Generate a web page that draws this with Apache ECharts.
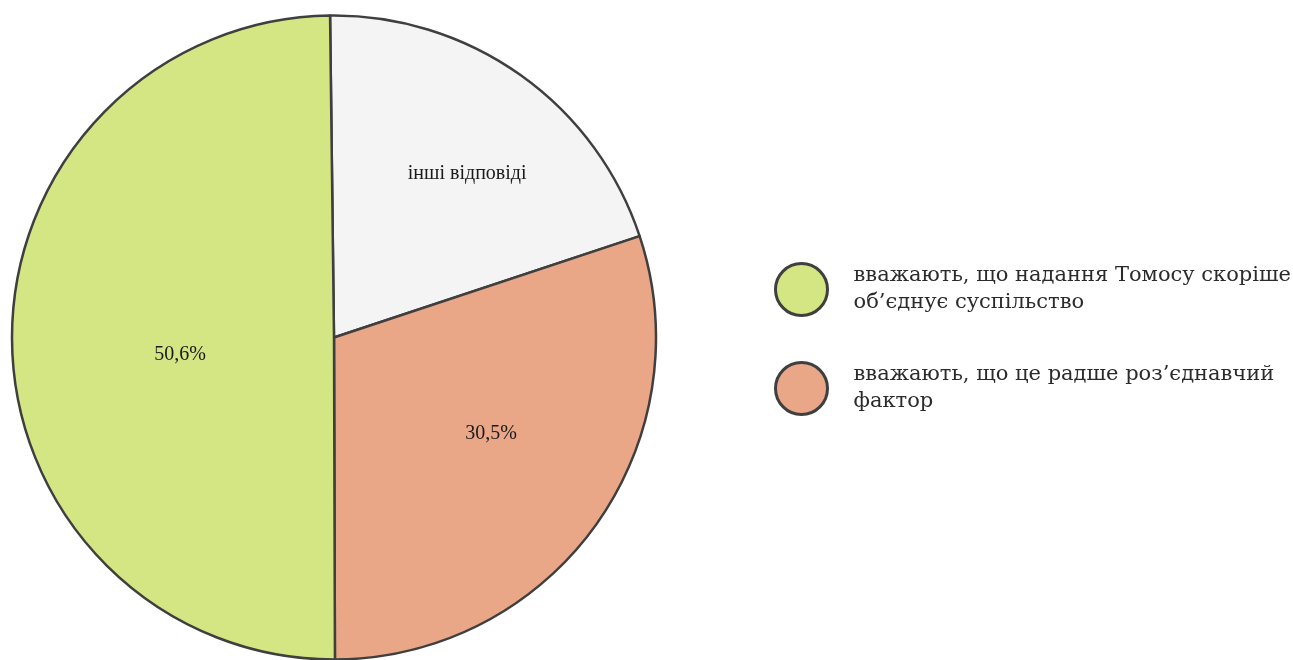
<!DOCTYPE html>
<html>
<head>
<meta charset="utf-8">
<script src="https://cdn.jsdelivr.net/npm/echarts@6/dist/echarts.min.js"></script>
<style>
html,body{margin:0;padding:0;background:#fff;}
#chart{width:1293px;height:660px;}
</style>
</head>
<body>
<div id="chart"></div>
<script>
// Data
const categories = ['інші відповіді', 'вважають, що це радше роз’єднавчий\nфактор', 'вважають, що надання Томосу скоріше\nоб’єднує суспільство'];
const values = [20.4, 30.5, 50.6];
const labelTexts = ['інші відповіді', '30,5%', '50,6%'];
const legendItems = [categories[2], categories[1]];

// Styles
const colors = ['#f4f4f4', '#eaa788', '#d4e684'];
const labelShift = [[38, -30], [24, 0], [10, 16]];

const chart = echarts.init(document.getElementById('chart'));
chart.setOption({
  animation: false,
  backgroundColor: '#ffffff',
  legend: {
    data: legendItems,
    orient: 'vertical',
    left: 769,
    top: 257,
    itemWidth: 52,
    itemHeight: 52,
    itemGap: 44,
    icon: 'circle',
    selectedMode: false,
    itemStyle: { borderColor: '#3f3f3f', borderWidth: 3 },
    textStyle: {
      fontFamily: 'DejaVu Serif',
      fontSize: 21,
      lineHeight: 27,
      color: '#2b2b2b',
      padding: [0, 0, 0, 21]
    }
  },
  series: [{
    type: 'pie',
    center: [334, 337.5],
    radius: 322,
    startAngle: 90.7,
    clockwise: true,
    silent: true,
    data: categories.map((c, i) => ({
      name: c,
      value: values[i],
      itemStyle: { color: colors[i] }
    })),
    itemStyle: { borderColor: '#3f3f3f', borderWidth: 2.5 },
    label: {
      show: true,
      position: 'inside',
      formatter: p => labelTexts[p.dataIndex],
      fontFamily: 'Liberation Serif',
      fontSize: 20,
      color: '#1a1a1a'
    },
    labelLayout: p => ({ dx: labelShift[p.dataIndex][0], dy: labelShift[p.dataIndex][1] }),
    labelLine: { show: false },
    emphasis: { disabled: true }
  }]
});
</script>
</body>
</html>
